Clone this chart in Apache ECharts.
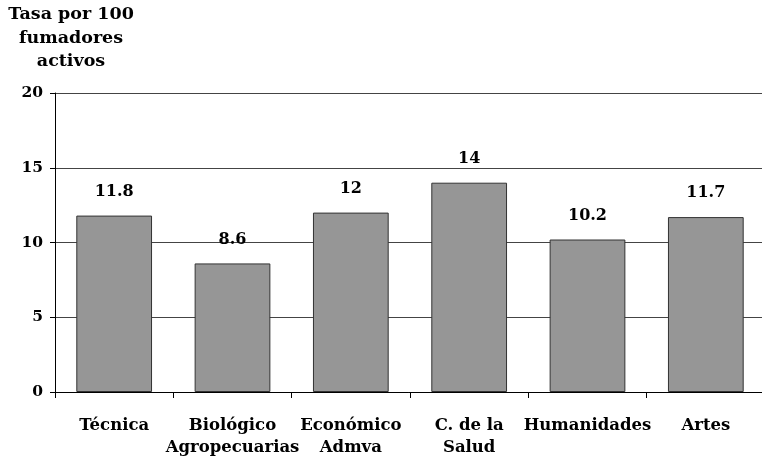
<!DOCTYPE html>
<html>
<head>
<meta charset="utf-8">
<script src="https://cdn.jsdelivr.net/npm/echarts@6/dist/echarts.min.js"></script>
<style>
  html, body { margin: 0; padding: 0; background: #fff; }
  #chart { width: 762px; height: 457px; }
</style>
</head>
<body>
<div id="chart"></div>
<script>
// datos
var areas = ['Técnica', 'Biológico\nAgropecuarias', 'Económico\nAdmva', 'C. de la\nSalud', 'Humanidades', 'Artes'];
var tasas = [11.8, 8.6, 12, 14, 10.2, 11.7];
var yTicks = [0, 5, 10, 15, 20];

var fuente = '"DejaVu Serif", serif';

var myChart = echarts.init(document.getElementById('chart'));

myChart.setOption({
    animation: false,
    grid: { left: 55, right: -3, top: 93, bottom: 65, outerBoundsMode: 'none', containLabel: false },
    graphic: [{
        type: 'text',
        x: 71,
        y: 3,
        style: {
            text: 'Tasa por 100\nfumadores\nactivos',
            align: 'center',
            verticalAlign: 'top',
            lineHeight: 23.5,
            font: 'bold 17.5px "DejaVu Serif", serif',
            fill: '#000'
        }
    }],
    xAxis: {
        type: 'category',
        data: areas,
        axisLine: { lineStyle: { color: '#000', width: 1 } },
        axisTick: { show: true, length: 6, lineStyle: { color: '#000' } },
        axisLabel: {
            color: '#000',
            fontFamily: fuente,
            fontWeight: 'bold',
            fontSize: 16.5,
            lineHeight: 22,
            margin: 23,
            interval: 0
        }
    },
    yAxis: {
        type: 'value',
        min: yTicks[0],
        max: yTicks[yTicks.length - 1],
        interval: 5,
        axisLine: { show: true, lineStyle: { color: '#000', width: 1 } },
        axisTick: { show: true, length: 5, lineStyle: { color: '#000' } },
        splitLine: { show: true, lineStyle: { color: '#444', width: 1 } },
        axisLabel: {
            color: '#000',
            fontFamily: fuente,
            fontWeight: 'bold',
            fontSize: 15.5,
            margin: 12
        }
    },
    series: [{
        type: 'bar',
        data: tasas,
        barWidth: '64%',
        itemStyle: { color: '#969696', borderColor: '#333', borderWidth: 1 },
        label: {
            show: true,
            position: 'top',
            distance: 16,
            color: '#000',
            fontFamily: fuente,
            fontWeight: 'bold',
            fontSize: 16
        }
    }]
});
</script>
</body>
</html>
